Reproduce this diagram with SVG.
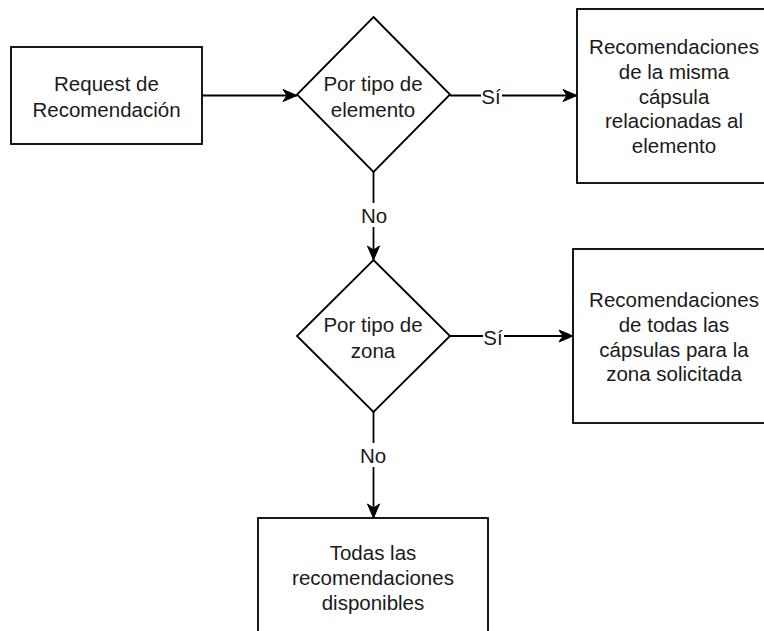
<svg xmlns="http://www.w3.org/2000/svg" width="764" height="631" viewBox="0 0 764 631">
  <style>
    .shape { fill: #ffffff; stroke: #000000; stroke-width: 1.8; }
    .edge { fill: none; stroke: #000000; stroke-width: 1.8; }
    .t { font-family: "Liberation Sans", Arial, Helvetica, sans-serif; font-size: 20.5px; fill: #1a1a1a; text-anchor: middle; dominant-baseline: central; }
    .lblbg { fill: #ffffff; stroke: none; }
  </style>
  <defs>
    <marker id="arrow" markerUnits="userSpaceOnUse" markerWidth="16" markerHeight="14" refX="15" refY="7" orient="auto">
      <path d="M1,1 L15,7 L1,13 L5,7 Z" fill="#000000" stroke="#000000" stroke-width="1"/>
    </marker>
  </defs>
  <rect width="764" height="631" fill="#ffffff"/>

  <g id="connectors">
    <line class="edge" x1="202" y1="95.5" x2="297" y2="95.5" marker-end="url(#arrow)"/>
    <line class="edge" x1="450" y1="95.5" x2="577" y2="95.5" marker-end="url(#arrow)"/>
    <line class="edge" x1="373.5" y1="172" x2="373.5" y2="260" marker-end="url(#arrow)"/>
    <line class="edge" x1="450" y1="336" x2="573" y2="336" marker-end="url(#arrow)"/>
    <line class="edge" x1="373.5" y1="412" x2="373.5" y2="518" marker-end="url(#arrow)"/>
    <g id="edge-labels">
      <rect class="lblbg" x="481" y="84" width="21" height="23"/>
      <text class="t" x="491" y="96">Sí</text>
      <rect class="lblbg" x="483" y="325" width="21" height="23"/>
      <text class="t" x="493" y="337">Sí</text>
      <rect class="lblbg" x="360" y="203" width="28" height="24"/>
      <text class="t" x="374" y="215">No</text>
      <rect class="lblbg" x="359" y="443" width="28" height="24"/>
      <text class="t" x="373" y="455">No</text>
    </g>
  </g>

  <g id="request">
    <rect class="shape" x="11" y="47" width="191" height="97"/>
    <text class="t" x="106.5" y="83">Request de</text>
    <text class="t" x="106.5" y="109">Recomendación</text>
  </g>

  <g id="decision-elemento">
    <polygon class="shape" points="373.5,17 450,94.5 373.5,172 297,94.5"/>
    <text class="t" x="373" y="83">Por tipo de</text>
    <text class="t" x="373" y="109">elemento</text>
  </g>

  <g id="result-elemento">
    <rect class="shape" x="577" y="9" width="194" height="174"/>
    <text class="t" x="674" y="46">Recomendaciones</text>
    <text class="t" x="674" y="71">de la misma</text>
    <text class="t" x="674" y="96">cápsula</text>
    <text class="t" x="674" y="120">relacionadas al</text>
    <text class="t" x="674" y="145">elemento</text>
  </g>

  <g id="decision-zona">
    <polygon class="shape" points="373.5,260 450,336 373.5,412 297,336"/>
    <text class="t" x="373" y="324">Por tipo de</text>
    <text class="t" x="373" y="350">zona</text>
  </g>

  <g id="result-zona">
    <rect class="shape" x="573" y="249" width="202" height="174"/>
    <text class="t" x="674" y="299">Recomendaciones</text>
    <text class="t" x="674" y="324">de todas las</text>
    <text class="t" x="674" y="349">cápsulas para la</text>
    <text class="t" x="674" y="373">zona solicitada</text>
  </g>

  <g id="result-todas">
    <rect class="shape" x="258" y="518" width="230" height="125"/>
    <text class="t" x="373" y="552">Todas las</text>
    <text class="t" x="373" y="577">recomendaciones</text>
    <text class="t" x="373" y="602">disponibles</text>
  </g>
</svg>
